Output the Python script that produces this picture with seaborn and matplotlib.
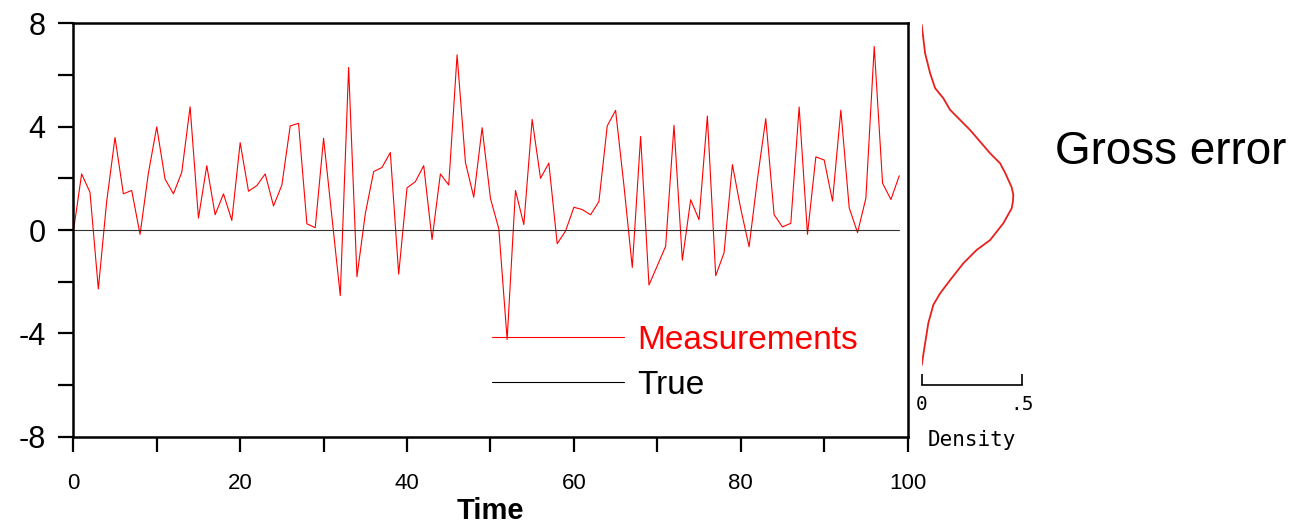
import numpy as np
import pandas as pd
import matplotlib
matplotlib.use('Agg')
import matplotlib.pyplot as plt
from matplotlib.lines import Line2D
import seaborn as sns

# time series
time = list(range(100))
measurements = [
    -0.08, 2.17, 1.46, -2.28, 1.10, 3.58, 1.40, 1.53, -0.17, 2.20,
    3.99, 1.97, 1.40, 2.23, 4.77, 0.46, 2.49, 0.59, 1.40, 0.37,
    3.38, 1.50, 1.72, 2.17, 0.93, 1.74, 4.03, 4.13, 0.24, 0.09,
    3.55, 0.50, -2.54, 6.29, -1.81, 0.63, 2.26, 2.42, 3.00, -1.71,
    1.63, 1.87, 2.49, -0.37, 2.17, 1.74, 6.78, 2.62, 1.27, 3.96,
    1.22, 0.05, -4.24, 1.53, 0.21, 4.28, 2.00, 2.59, -0.53, -0.04,
    0.88, 0.79, 0.59, 1.10, 4.03, 4.63, 1.72, -1.45, 3.62, -2.13,
    -1.38, -0.63, 4.05, -1.17, 1.17, 0.40, 4.41, -1.77, -0.88, 2.53,
    0.82, -0.65, 1.97, 4.31, 0.59, 0.12, 0.26, 4.76, -0.17, 2.83,
    2.71, 1.12, 4.64, 0.86, -0.10, 1.23, 7.10, 1.81, 1.18, 2.10,
]
true_value = [0.0] * 100

# gross error density curve (side panel)
dens_y = [7.94, 6.84, 6.07, 5.49, 5.10, 4.65, 4.26, 3.87, 3.42, 2.97, 2.58, 2.20, 1.94,
          1.65, 1.36, 1.10, 0.84, 0.26, -0.39, -0.77, -1.29, -1.94, -2.45, -2.90, -3.61,
          -4.39, -5.23]
dens_x = [0.0, 0.017, 0.042, 0.067, 0.108, 0.142, 0.192, 0.242, 0.292, 0.342, 0.392, 0.418, 0.433,
          0.450, 0.458, 0.456, 0.450, 0.408, 0.342, 0.275, 0.208, 0.142, 0.092, 0.058, 0.033,
          0.017, 0.0]

sns.set_style('ticks')
plt.rcParams['font.family'] = ['Liberation Sans', 'DejaVu Sans']
plt.rcParams['text.color'] = 'black'
plt.rcParams['axes.labelcolor'] = 'black'
plt.rcParams['xtick.color'] = 'black'
plt.rcParams['ytick.color'] = 'black'

W, H = 1311, 526
fig = plt.figure(figsize=(W / 100, H / 100), dpi=100)
ax = fig.add_axes([73.3 / W, 1 - 436.7 / H, 834.3 / W, 413.4 / H])

sns.lineplot(x=time, y=measurements, ax=ax, color='red', lw=0.8, legend=False)
sns.lineplot(x=time, y=true_value, ax=ax, color='#333333', lw=0.8, legend=False)

ax.set_xlim(0, 100)
ax.set_ylim(-8, 8)
ax.set_xticks(range(0, 101, 10))
ax.set_xticklabels([str(v) if v % 20 == 0 else '' for v in range(0, 101, 10)])
ax.set_yticks(range(-8, 9, 2))
ax.set_yticklabels([str(v) if v % 4 == 0 else '' for v in range(-8, 9, 2)])
ax.tick_params(axis='y', labelsize=22, length=11, width=1.6, pad=9, direction='out')
ax.tick_params(axis='x', labelsize=16, length=11, width=1.6, pad=15, direction='out')
for s in ax.spines.values():
    s.set_linewidth(1.8)
    s.set_color('black')
ax.set_xlabel('Time', fontsize=21, fontweight='bold', labelpad=2)
ax.set_ylabel('')

handles = [Line2D([], [], color='red', lw=0.8), Line2D([], [], color='black', lw=0.8)]
leg = ax.legend(handles, ['Measurements', 'True'], loc='upper left',
                bbox_to_anchor=(0.5015, 0.27), frameon=False, fontsize=24,
                handlelength=3.96, handletextpad=0.42, borderpad=0,
                borderaxespad=0, labelspacing=0.42)
leg.get_texts()[0].set_color('red')
leg.get_texts()[1].set_color('black')

# density side panel
axd = fig.add_axes([921.7 / W, 1 - 436.7 / H, 100 / W, 413.4 / H])
sns.lineplot(x=dens_x, y=dens_y, ax=axd, color='#e8201e', lw=1.3, sort=False,
             estimator=None, legend=False)
axd.set_xlim(0, 0.5)
axd.set_ylim(-8, 8)
axd.set_facecolor('none')
for side in ['top', 'left', 'right']:
    axd.spines[side].set_visible(False)
axd.spines['bottom'].set_position(('data', -6))
axd.spines['bottom'].set_bounds(0, 0.5)
axd.spines['bottom'].set_linewidth(1.2)
axd.spines['bottom'].set_color('black')
axd.set_yticks([])
axd.set_xticks([0, 0.5])
axd.set_xticklabels(['0', '.5'], family='DejaVu Sans Mono')
axd.tick_params(axis='x', direction='in', length=8, width=1.2, labelsize=14, pad=7)
axd.set_xlabel('Density', family='DejaVu Sans Mono', fontsize=15, labelpad=12)
axd.set_ylabel('')

fig.text(1055 / W, 1 - 164 / H, 'Gross error', fontsize=33, va='baseline', ha='left')

fig.savefig('out.png', dpi=100)
